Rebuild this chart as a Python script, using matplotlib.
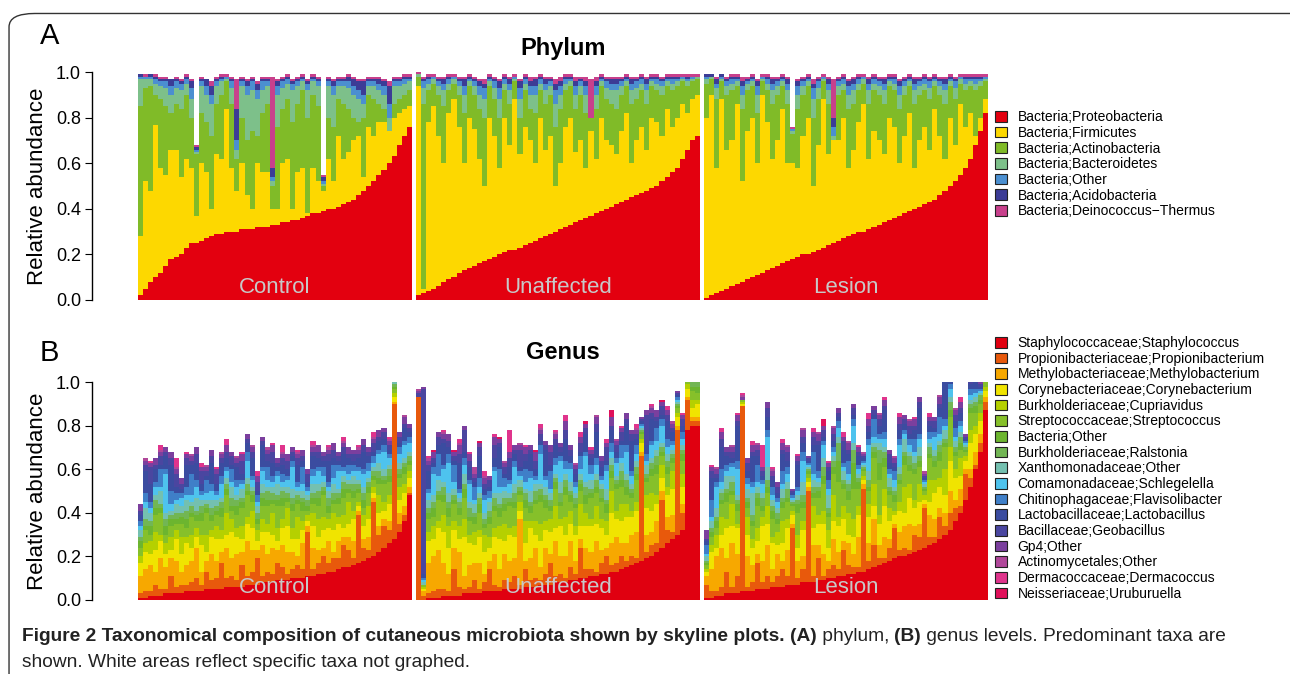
import numpy as np
import matplotlib.pyplot as plt
from matplotlib.patches import Patch, FancyBboxPatch
from matplotlib.offsetbox import TextArea, HPacker, VPacker, AnchoredOffsetbox

plt.rcParams['font.family'] = ['Liberation Sans', 'DejaVu Sans']

groups = ['Control', 'Unaffected', 'Lesion']

phylum_names = ['Bacteria;Proteobacteria', 'Bacteria;Firmicutes', 'Bacteria;Actinobacteria',
                'Bacteria;Bacteroidetes', 'Bacteria;Other', 'Bacteria;Acidobacteria',
                'Bacteria;Deinococcus\u2212Thermus']
phylum_colors = ['#e3000f', '#fdd800', '#80bb28', '#7dc08a', '#4b8fd0', '#3c3c96', '#c8408c']

# cumulative tops (percent) of each phylum per sample
phylum_tops = {
 'Control': [
  "2 5 8 10 12 15 18 19 20 23 25 25 26 27 28 29 29 30 30 30 31 31 31 32 32 32 33 33 34 34 35 35 36 37 38 38 39 40 40 41 42 43 44 46 48 50 52 55 57 60 63 68 72 76",
  "28 52 48 77 58 55 66 66 54 62 58 37 60 56 40 64 62 84 58 48 60 46 40 60 56 56 40 40 60 62 40 56 58 38 58 52 48 62 52 72 62 65 70 72 54 76 72 78 78 82 80 82 84 85",
  "85 93 94 90 88 85 82 86 84 90 80 64 82 78 72 86 90 96 86 62 80 70 74 72 82 86 50 76 84 88 78 86 92 80 90 85 50 80 76 88 86 84 80 78 80 90 88 86 84 74 86 88 90 92",
  "97 97 97 95 94 93 90 93 92 95 88 65 94 90 86 94 96 97 93 66 94 90 92 88 92 94 52 90 93 95 92 94 96 92 96 94 51 94 90 94 94 93 90 88 86 94 94 92 90 80 94 94 95 96",
  "98 98 98 97 96 96 94 96 95 97 93 66 96 94 90 96 97 98 96 70 96 94 96 92 96 96 54 94 96 97 95 96 97 95 97 96 52 96 94 96 96 96 94 92 90 96 96 95 94 86 96 96 97 97",
  "99 98 99 98 97 97 97 97 96 98 96 67 97 97 94 97 98 98 97 84 97 96 97 95 97 97 58 96 97 98 96 97 98 96 98 97 54 97 96 97 97 98 97 96 96 97 97 97 96 94 97 97 98 98",
  "99 99 99 99 98 98 97 98 97 99 97 68 98 97 96 98 99 99 98 97 98 97 98 96 98 98 98 97 98 99 97 98 99 97 99 98 55 98 97 98 98 99 98 97 97 98 98 98 97 96 98 98 99 99"],
 'Unaffected': [
  "2 3 4 5 6 8 9 10 12 13 14 15 16 17 18 19 20 21 22 22 23 24 25 26 27 28 29 30 31 32 33 34 35 36 37 38 39 40 41 42 43 44 45 46 47 48 49 50 52 54 56 58 62 66 70 72",
  "94 5 78 85 72 60 82 88 76 60 80 75 62 50 80 72 58 80 68 88 64 76 70 60 80 66 72 50 60 76 80 65 70 58 74 62 80 70 68 64 74 82 60 70 76 66 80 78 72 84 76 80 86 82 88 90",
  "98 86 92 95 90 85 92 95 90 82 94 90 84 80 94 88 80 92 86 96 80 92 84 82 92 86 90 76 84 92 94 84 90 82 90 84 94 88 86 84 90 94 86 88 92 86 94 92 90 94 92 94 96 94 96 97",
  "99 93 95 97 94 92 95 97 94 90 96 94 90 88 96 93 88 95 92 97 88 95 90 90 95 92 94 86 90 95 96 90 94 90 94 90 96 93 92 92 94 96 92 93 95 92 96 95 94 96 95 96 97 96 97 98",
  "99 96 97 98 96 95 97 98 96 94 97 96 94 93 97 96 93 97 95 98 93 97 94 94 97 95 96 92 94 97 97 94 96 94 96 94 97 96 95 95 96 97 95 96 97 95 97 97 96 97 97 97 98 97 98 98",
  "99 97 98 98 97 97 98 98 97 97 98 97 96 95 98 97 96 98 97 98 96 98 96 97 98 97 97 95 96 98 98 96 97 96 97 96 98 97 97 97 97 98 97 97 98 97 98 98 97 98 98 98 98 98 98 98",
  "100 98 99 99 98 98 99 99 98 98 99 98 97 97 99 98 97 99 98 99 97 99 98 98 99 98 98 97 98 99 99 98 98 98 80 98 99 98 98 98 98 99 98 98 99 98 99 99 98 99 99 99 99 99 99 99"],
 'Lesion': [
  "1 2 3 4 5 6 7 8 9 10 11 12 13 14 15 16 17 18 19 20 20 21 22 23 24 25 26 27 28 29 30 30 31 32 33 34 35 36 37 38 39 40 41 42 43 44 46 48 50 52 55 58 62 68 74 82",
  "80 90 58 88 66 70 86 52 74 80 60 90 78 62 70 84 60 60 58 72 80 50 68 88 64 74 70 80 58 66 78 86 62 74 70 64 80 76 60 72 82 58 70 76 66 84 72 62 80 68 86 76 82 72 80 88",
  "95 97 88 96 90 92 94 84 92 94 82 96 92 86 90 94 86 73 84 90 94 80 88 96 86 70 90 92 84 86 92 95 86 92 90 86 94 92 84 90 94 86 90 92 88 94 90 86 94 88 95 92 94 92 94 96",
  "97 98 93 97 94 95 96 90 95 96 90 97 95 92 94 96 92 74 90 94 96 88 93 97 92 72 94 95 90 92 95 97 92 95 94 92 96 95 90 94 96 92 94 95 93 96 94 92 96 93 97 95 96 95 96 97",
  "98 98 95 98 96 97 97 94 96 97 94 98 97 95 96 97 95 75 94 96 97 93 96 98 95 76 96 97 94 95 97 98 95 97 96 95 97 97 94 96 97 95 96 97 96 97 96 95 97 96 98 97 97 97 97 98",
  "99 99 97 99 97 98 98 96 97 98 96 98 98 97 97 98 97 75 96 97 98 95 97 98 97 80 97 98 96 97 98 98 97 98 97 97 98 98 96 97 98 97 97 98 97 98 97 97 98 97 98 98 98 98 98 98",
  "99 99 98 99 98 99 99 98 98 99 97 99 99 98 98 99 98 76 97 98 99 97 98 99 98 97 98 99 97 98 99 99 98 99 98 98 99 99 97 98 99 98 98 99 98 99 98 98 99 98 99 99 99 99 99 99"],
}

genus_names = ['Staphylococcaceae;Staphylococcus', 'Propionibacteriaceae;Propionibacterium',
               'Methylobacteriaceae;Methylobacterium', 'Corynebacteriaceae;Corynebacterium',
               'Burkholderiaceae;Cupriavidus', 'Streptococcaceae;Streptococcus', 'Bacteria;Other',
               'Burkholderiaceae;Ralstonia', 'Xanthomonadaceae;Other', 'Comamonadaceae;Schlegelella',
               'Chitinophagaceae;Flavisolibacter', 'Lactobacillaceae;Lactobacillus',
               'Bacillaceae;Geobacillus', 'Gp4;Other', 'Actinomycetales;Other',
               'Dermacoccaceae;Dermacoccus', 'Neisseriaceae;Uruburuella']
genus_colors = ['#e00010', '#e8590c', '#f7a800', '#f0e400', '#b5d000', '#86c02a', '#6cb52f',
                '#72b654', '#74c0b0', '#4ec3ee', '#3f7fc8', '#3b4ca0', '#4a46a0', '#7b3f9e',
                '#b0479a', '#e0348c', '#e0105a']

# percent abundance of each genus per sample
genus_vals = {
 'Control': [
  "1 1 2 2 2 3 3 3 3 4 4 4 4 5 5 5 5 6 6 6 6 7 7 7 8 8 8 9 9 9 10 10 10 11 11 12 12 13 13 14 15 15 16 17 18 19 20 22 24 26 28 31 36 48",
  "2 3 2 5 3 2 8 3 4 3 4 6 3 8 4 5 12 4 5 3 10 4 6 12 3 5 4 8 6 3 4 6 4 20 3 5 8 4 6 5 10 8 3 22 6 4 25 8 10 6 62 4 3 1",
  "8 10 12 6 14 10 8 12 6 9 10 14 6 5 12 8 5 14 8 12 6 16 10 4 14 8 12 6 10 10 8 4 12 3 10 6 4 10 3 8 4 6 8 2 4 6 2 4 3 4 1 5 4 3",
  "6 8 5 10 8 6 4 10 8 10 6 5 12 4 8 10 6 6 12 8 6 8 10 4 6 10 6 4 8 12 6 8 6 2 10 6 8 6 10 8 4 6 10 2 6 8 2 6 4 8 2 6 6 4",
  "3 4 6 8 3 5 6 4 8 3 6 4 5 8 3 6 4 10 6 4 6 3 8 5 6 4 10 6 4 8 5 10 4 3 6 8 6 4 8 3 6 10 4 2 5 6 3 8 4 4 2 6 4 3",
  "4 6 3 8 10 4 5 3 6 4 8 3 6 10 4 5 6 8 4 6 8 10 4 3 6 8 4 10 6 3 8 6 5 2 4 6 10 3 4 6 8 4 6 4 3 6 3 5 8 6 2 4 5 3",
  "3 2 4 3 2 4 3 2 3 4 2 3 4 2 3 2 4 3 2 4 3 2 3 2 4 3 2 3 4 2 3 2 4 2 3 4 2 3 2 3 4 2 3 2 4 3 2 3 2 3 1 2 3 2",
  "2 3 2 4 2 3 2 3 2 4 3 2 3 2 3 2 3 2 4 3 2 3 2 3 2 4 3 2 3 2 3 2 2 3 2 3 2 4 3 2 3 2 3 2 3 2 2 3 2 3 1 2 2 2",
  "3 5 4 2 6 3 2 4 3 5 2 6 3 2 4 3 2 3 5 2 4 3 2 3 4 2 3 5 2 3 4 2 3 2 4 3 2 3 4 2 3 2 4 2 3 2 2 4 3 2 1 3 2 2",
  "2 3 2 4 2 18 3 2 4 2 3 5 2 3 4 2 6 3 2 4 2 8 3 2 6 3 2 4 2 3 10 2 3 2 4 6 3 2 3 8 2 3 2 4 6 3 2 4 8 3 1 4 6 4",
  "2 4 3 2 8 2 6 3 2 4 10 3 2 6 3 2 4 2 6 3 2 4 2 3 2 6 3 2 4 2 3 2 8 2 3 2 4 2 6 3 2 4 3 2 2 4 3 2 3 2 1 3 2 3",
  "3 10 8 6 2 6 12 3 2 10 4 8 3 2 10 3 6 4 2 6 3 4 8 2 10 3 6 2 4 3 2 8 3 2 6 4 3 10 3 2 6 3 2 4 8 3 2 4 3 2 1 2 6 2",
  "2 3 8 2 4 2 3 6 2 3 2 4 6 2 3 5 2 3 4 2 6 2 3 4 2 3 5 2 3 4 2 3 2 4 2 3 2 3 4 2 3 2 3 2 3 2 4 2 3 2 1 3 2 2",
  "3 2 2 3 2 2 3 2 3 2 2 3 2 2 3 2 2 3 2 2 3 2 2 3 2 2 3 2 2 3 2 2 3 2 2 3 2 2 3 2 2 3 2 2 3 2 2 3 2 2 1 2 3 2",
  "0 1 0 0 1 0 0 1 0 0 1 0 0 1 0 0 1 0 0 1 0 0 1 0 0 1 0 0 1 0 0 1 0 0 1 0 0 1 0 0 1 0 0 1 0 0 1 0 0 1 0 0 1 0",
  "0 0 1 0 2 0 0 4 0 1 0 0 2 0 0 1 0 3 0 0 1 0 0 2 0 0 1 0 3 0 0 1 0 0 2 0 0 1 0 0 2 0 0 1 0 0 2 0 0 1 1 0 0 0",
  "0 0 0 0 0 0 0 0 0 0 0 0 0 0 0 0 0 0 0 0 0 0 0 0 0 0 0 0 0 0 0 0 0 0 0 0 0 0 0 0 0 0 0 0 0 0 0 0 0 0 0 0 0 0"],
 'Unaffected': [
  "0 0 1 1 1 2 2 2 2 3 3 3 3 4 4 4 4 5 5 5 5 6 6 6 7 7 7 8 8 8 9 9 10 10 11 11 12 12 13 13 14 15 16 17 18 19 20 22 24 26 28 30 32 78 80 80",
  "93 2 2 3 4 3 2 12 4 2 3 6 2 4 10 3 2 4 3 6 2 8 3 4 2 5 10 3 4 2 6 3 14 4 3 2 5 8 3 4 6 3 4 2 48 3 5 4 22 6 3 48 8 14 2 2",
  "0 2 14 16 18 12 8 10 16 6 10 8 12 4 4 14 8 12 10 8 30 4 10 14 6 12 4 16 8 10 12 6 4 10 8 14 6 4 10 12 6 8 10 12 2 8 6 10 4 6 8 2 4 1 2 2",
  "0 1 10 8 10 14 12 8 6 18 10 8 12 10 6 8 14 6 12 10 4 8 14 6 12 8 10 6 14 10 8 12 6 10 12 8 10 6 14 8 10 12 8 10 4 12 10 8 6 10 12 4 8 4 4 6",
  "0 1 4 6 3 8 10 4 6 8 4 6 3 8 5 4 6 8 3 5 4 10 3 6 8 4 6 10 3 8 6 4 10 6 3 8 4 6 10 4 8 6 3 4 2 6 8 4 6 4 8 2 6 2 4 2",
  "0 1 6 4 10 6 4 8 5 10 6 4 8 3 6 8 4 6 10 8 3 6 4 8 10 6 4 8 6 10 4 8 6 4 10 6 8 4 6 10 8 4 6 10 2 6 8 10 4 6 4 2 6 2 4 3",
  "0 0 3 4 2 3 4 2 3 4 2 3 4 2 3 2 4 3 2 3 2 4 3 2 3 4 2 3 2 4 3 2 3 4 2 3 2 4 3 2 3 4 2 3 1 2 3 4 2 3 2 1 3 1 2 3",
  "0 0 2 3 2 4 3 2 3 2 4 2 3 2 3 4 2 3 2 4 2 3 2 4 3 2 3 2 4 3 2 3 2 4 2 3 4 2 3 2 4 3 2 3 1 2 3 4 2 3 2 1 2 1 2 2",
  "0 1 4 3 5 2 4 3 2 5 3 4 2 3 4 2 5 3 2 4 3 2 5 3 2 4 3 2 5 3 4 2 3 2 4 3 2 5 3 2 4 3 2 3 1 4 2 3 2 3 2 1 2 1 1 2",
  "0 1 3 10 2 6 14 3 2 4 8 2 3 6 2 10 3 2 4 8 2 3 6 2 14 3 2 4 10 2 6 3 2 12 3 4 2 8 3 6 2 10 4 3 1 2 6 4 8 3 2 1 3 1 1 2",
  "0 1 2 3 10 2 4 8 2 3 2 6 4 2 3 2 8 4 2 3 2 6 3 2 4 2 8 3 2 4 3 2 6 2 4 3 2 3 4 2 6 3 2 4 1 3 2 6 3 4 2 1 3 1 1 2",
  "0 2 8 2 4 10 3 2 12 3 6 2 10 3 2 4 10 2 6 3 2 4 8 3 2 12 3 6 2 10 3 4 2 8 3 12 4 2 6 3 2 10 14 3 1 4 10 3 2 8 4 1 3 1 1 2",
  "2 85 3 2 4 2 3 2 4 10 3 2 4 2 3 6 2 3 4 2 8 3 2 4 3 2 6 3 2 4 3 2 4 3 2 4 3 6 2 3 4 2 3 2 1 14 3 2 4 3 2 1 3 1 1 1",
  "1 1 2 3 2 2 3 2 4 2 3 2 2 3 2 4 2 2 3 2 2 3 2 4 2 2 3 2 2 4 2 2 3 2 2 3 2 2 4 2 2 3 2 2 1 2 2 3 2 2 2 1 2 1 1 1",
  "1 0 1 0 0 1 0 0 1 0 0 3 0 1 0 0 0 1 0 0 1 0 0 0 1 0 0 1 0 0 0 1 0 0 0 1 0 0 0 1 0 0 0 1 0 0 1 0 0 0 1 0 0 0 1 0",
  "0 0 1 0 0 1 0 0 2 0 1 0 0 2 0 1 0 0 10 0 0 1 0 0 2 0 0 1 0 3 0 0 2 0 1 0 0 2 0 0 1 0 0 2 0 0 1 0 0 2 0 0 1 0 0 1",
  "0 0 0 1 0 0 0 1 0 0 0 0 1 0 0 0 1 0 0 0 0 0 0 1 0 0 0 0 0 0 0 0 0 1 0 0 0 0 3 0 0 0 0 0 0 0 0 0 1 0 0 0 0 0 0 0"],
 'Lesion': [
  "1 1 2 2 3 3 3 4 4 4 5 5 5 6 6 6 7 7 7 8 8 8 9 9 10 10 11 11 12 12 13 13 14 15 16 17 18 19 20 20 21 22 23 24 25 26 28 30 32 36 40 46 52 60 68 87",
  "6 3 2 4 10 3 8 85 2 4 12 3 6 2 5 8 4 26 3 6 42 3 10 2 4 6 3 12 4 3 2 38 4 10 3 2 6 14 3 4 2 8 6 18 4 3 10 4 8 6 3 12 4 2 4 4",
  "4 10 16 18 6 20 10 0 14 8 4 10 14 6 10 4 12 2 8 6 2 14 6 10 4 12 8 4 10 6 14 2 8 12 6 10 4 2 8 10 12 4 6 2 10 8 4 6 10 4 8 2 4 6 4 2",
  "2 8 4 6 14 8 12 1 10 8 6 16 10 12 4 8 10 4 6 12 2 8 10 14 6 8 12 10 4 8 10 2 12 6 10 14 8 4 10 6 12 8 10 2 6 12 10 8 14 10 6 4 12 8 6 3",
  "1 3 6 8 4 10 2 1 8 4 6 4 8 3 6 10 4 2 6 4 2 10 4 6 8 12 4 6 10 8 4 2 6 10 4 8 6 2 4 12 6 4 8 2 10 6 4 12 6 4 8 2 6 4 4 2",
  "2 4 3 6 8 4 6 1 4 6 10 3 6 8 4 6 8 2 10 6 2 4 8 12 6 10 16 8 6 14 8 2 6 12 16 10 6 4 8 10 6 12 8 2 10 6 8 10 14 6 4 2 8 6 4 2",
  "1 2 3 2 4 2 3 0 3 2 4 2 3 4 2 3 2 1 4 3 1 2 3 4 2 3 10 2 4 12 3 1 2 3 8 4 2 3 2 4 3 2 3 1 2 3 4 2 3 2 3 1 2 3 2 1",
  "1 2 2 3 2 4 2 0 2 3 2 4 3 2 3 2 4 1 2 3 1 3 2 4 2 3 8 2 3 6 2 1 3 2 6 3 2 2 3 2 4 3 2 1 3 2 3 2 4 2 3 1 2 2 2 1",
  "2 3 4 2 6 3 2 0 4 10 3 2 6 3 2 4 3 1 2 6 1 3 2 4 6 2 3 4 2 3 2 1 4 2 3 2 4 2 3 6 2 3 4 1 2 3 2 4 2 3 2 1 2 2 1 1",
  "1 2 10 3 2 4 12 0 2 3 2 4 14 2 3 2 4 1 2 10 1 3 2 6 3 2 4 2 3 8 2 1 12 3 2 4 2 3 10 2 3 2 4 1 2 6 3 2 4 2 3 1 2 2 1 1",
  "4 8 2 6 3 2 4 0 3 2 8 2 3 4 2 6 3 1 2 4 1 10 3 2 4 2 3 2 6 3 2 1 3 8 2 3 2 4 3 2 3 6 2 1 3 2 8 3 2 4 2 1 3 2 1 1",
  "2 10 2 10 4 2 16 0 3 12 4 2 6 3 2 8 3 1 10 4 1 3 12 2 4 3 2 6 3 2 4 1 3 2 4 10 3 2 4 3 2 4 12 1 3 2 4 30 2 3 4 1 2 3 1 1",
  "1 3 2 4 2 3 2 0 4 2 3 2 4 2 3 2 4 1 2 3 1 4 2 3 2 3 2 4 2 3 2 1 3 2 3 2 4 2 3 2 4 2 3 1 2 3 2 4 2 3 2 1 2 2 1 1",
  "4 2 2 3 2 2 3 1 2 3 2 2 3 2 2 3 2 1 2 3 1 2 3 2 2 3 2 2 3 2 2 1 3 2 2 3 2 2 3 2 2 3 2 1 2 2 3 2 2 2 3 1 2 2 1 1",
  "0 0 1 0 0 1 0 1 0 0 1 0 0 1 0 0 1 0 0 1 0 0 1 0 0 1 0 0 1 0 0 1 0 0 1 0 0 1 0 0 1 0 0 1 0 0 1 0 0 1 0 0 1 0 0 0",
  "0 1 0 2 0 0 1 1 0 2 0 10 0 1 0 2 0 0 1 0 0 2 0 0 1 0 0 2 0 0 1 0 3 0 0 1 0 0 2 0 0 1 0 0 2 0 0 1 0 0 2 0 0 1 0 0",
  "0 0 0 0 0 0 0 0 0 0 0 0 0 0 0 0 0 0 0 0 0 0 0 3 0 0 0 0 0 0 0 0 0 0 0 0 0 0 0 0 0 0 0 0 0 0 0 0 0 0 0 0 0 0 0 0"],
}


def parse(rows):
    arr = np.array([[float(v) for v in r.split()] for r in rows]) / 100
    return arr


fig = plt.figure(figsize=(12.9, 6.74), dpi=100)
fig.add_artist(FancyBboxPatch((0.007, -0.05), 1.05, 1.03, boxstyle='round,pad=0,rounding_size=0.02',
                              transform=fig.transFigure, fill=False, lw=1.0, ec='#333333'))


def skyline(ax, data, colors, cumulative):
    x0 = 0
    for g in groups:
        arr = parse(data[g])
        if cumulative:
            heights = np.diff(np.vstack([np.zeros(arr.shape[1]), arr]), axis=0)
        else:
            heights = arr
        n = arr.shape[1]
        xs = x0 + np.arange(n)
        bottom = np.zeros(n)
        for h, c in zip(heights, colors):
            ax.bar(xs, h, bottom=bottom, width=1.0, color=c, lw=0, align='edge')
            bottom += h
        ax.text(x0 + n / 2, 0.01, g, ha='center', va='bottom', fontsize=16, color='#c8c8c8')
        x0 += n + 0.8
    ax.set_xlim(0, x0 - 0.8)
    ax.set_ylim(0, 1.0)
    for s in ['top', 'right', 'bottom']:
        ax.spines[s].set_visible(False)
    ax.spines['left'].set_position(('outward', 33))
    ax.spines['left'].set_linewidth(1.0)
    ax.set_xticks([])
    ax.set_yticks(np.arange(0, 1.01, 0.2))
    ax.set_yticklabels([f'{v:.1f}' for v in np.arange(0, 1.01, 0.2)], fontsize=13)
    ax.tick_params(axis='y', length=5, pad=3)
    ax.set_ylabel('Relative abundance', fontsize=16, labelpad=6)


axA = fig.add_axes([0.107, 0.555, 0.659, 0.338])
skyline(axA, phylum_tops, phylum_colors, True)
axA.set_title('Phylum', fontsize=17, fontweight='bold', pad=12)
axB = fig.add_axes([0.107, 0.110, 0.659, 0.323])
skyline(axB, genus_vals, genus_colors, False)
axB.set_title('Genus', fontsize=17, fontweight='bold', pad=17)

fig.text(0.031, 0.935, 'A', fontsize=21)
fig.text(0.031, 0.465, 'B', fontsize=21)

hA = [Patch(fc=c, ec='#222222', lw=0.8) for c in phylum_colors]
fig.legend(hA, phylum_names, loc='upper left', bbox_to_anchor=(0.762, 0.855), frameon=False,
           fontsize=10, handlelength=0.8, handleheight=0.8, labelspacing=0.12, handletextpad=0.8)
hB = [Patch(fc=c, ec='#222222', lw=0.8) for c in genus_colors]
fig.legend(hB, genus_names, loc='upper left', bbox_to_anchor=(0.762, 0.520), frameon=False,
           fontsize=10, handlelength=0.8, handleheight=0.8, labelspacing=0.12, handletextpad=0.8)

fs = 13.8
bold = dict(fontsize=fs, fontweight='bold', color='#222222')
reg = dict(fontsize=fs, color='#222222')
line1 = HPacker(children=[
    TextArea('Figure 2 Taxonomical composition of cutaneous microbiota shown by skyline plots. ', textprops=bold),
    TextArea('(A)', textprops=bold), TextArea(' phylum, ', textprops=reg),
    TextArea('(B)', textprops=bold), TextArea(' genus levels. Predominant taxa are', textprops=reg)],
    pad=0, sep=0, align='baseline')
line2 = TextArea('shown. White areas reflect specific taxa not graphed.', textprops=reg)
cap = VPacker(children=[line1, line2], pad=0, sep=6, align='left')
fig.add_artist(AnchoredOffsetbox(loc='upper left', child=cap, bbox_to_anchor=(0.017, 0.068),
                                 bbox_transform=fig.transFigure, frameon=False, pad=0, borderpad=0))

fig.savefig('out.png', dpi=100)
